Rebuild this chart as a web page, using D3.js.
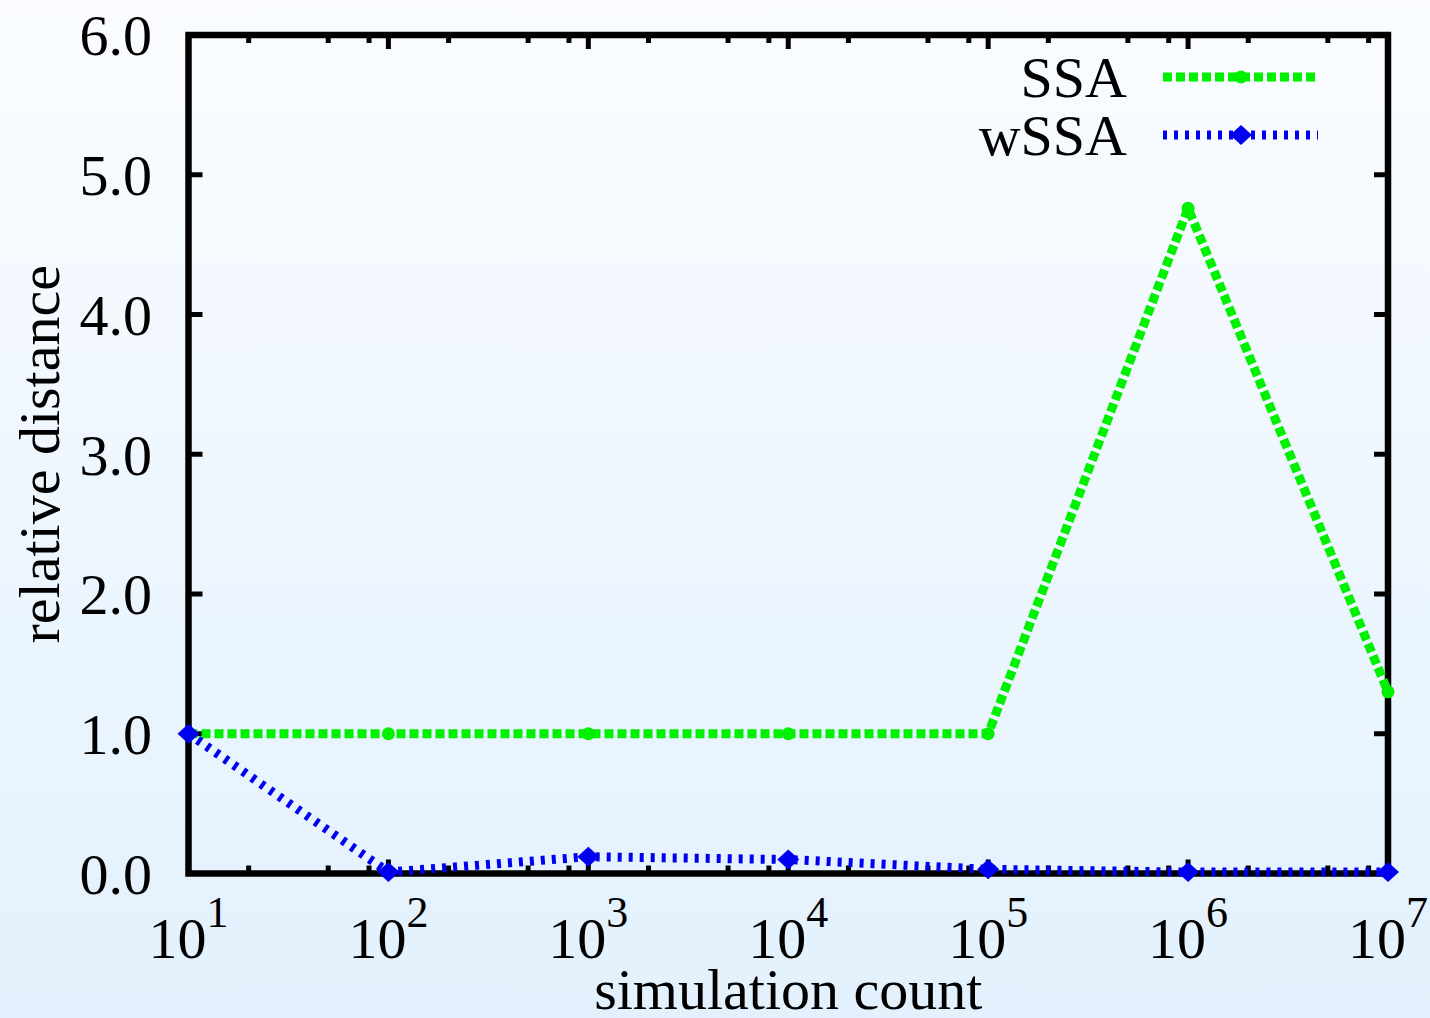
<!DOCTYPE html>
<html>
<head>
<meta charset="utf-8">
<script src="https://cdn.jsdelivr.net/npm/d3@7"></script>
<style>
  html, body { margin: 0; padding: 0; }
  body { width: 1430px; height: 1018px; overflow: hidden; }
  text { font-family: "Liberation Serif", "Times New Roman", serif; fill: #000; }
</style>
</head>
<body>
<div id="chart"></div>
<script>
// Data
const counts = [1e1, 1e2, 1e3, 1e4, 1e5, 1e6, 1e7];
const ssaValues = [1.0, 1.0, 1.0, 1.0, 1.0, 4.76, 1.30];
const wssaValues = [1.0, 0.01, 0.12, 0.10, 0.03, 0.01, 0.01];
const yTicks = [0, 1, 2, 3, 4, 5, 6];
const minorMultipliers = [2, 5, 8];

const width = 1430, height = 1018;
const margin = { left: 188.5, right: 1430 - 1388, top: 35, bottom: 1018 - 873.5 };

const svg = d3.select("#chart")
  .append("svg")
  .attr("width", width)
  .attr("height", height);

// background gradient
const defs = svg.append("defs");
const bg = defs.append("linearGradient")
  .attr("id", "bg")
  .attr("x1", 0).attr("x2", 0).attr("y1", 0).attr("y2", 1);
bg.append("stop").attr("offset", "0%").attr("stop-color", "#fafcff");
bg.append("stop").attr("offset", "100%").attr("stop-color", "#e2f1fd");
svg.append("rect")
  .attr("width", width).attr("height", height)
  .attr("fill", "url(#bg)");

const x = d3.scaleLog()
  .domain([1e1, 1e7])
  .range([margin.left, width - margin.right]);

const y = d3.scaleLinear()
  .domain([0, 6])
  .range([height - margin.bottom, margin.top]);

const [x0, x1] = x.range();
const [yb, yt] = y.range();

// ticks (inward, on all four sides)
const tickG = svg.append("g").attr("stroke", "#000").attr("stroke-width", 5);

yTicks.forEach(v => {
  tickG.append("line").attr("x1", x0).attr("x2", x0 + 14).attr("y1", y(v)).attr("y2", y(v));
  tickG.append("line").attr("x1", x1).attr("x2", x1 - 14).attr("y1", y(v)).attr("y2", y(v));
});

counts.forEach(c => {
  tickG.append("line").attr("x1", x(c)).attr("x2", x(c)).attr("y1", yb).attr("y2", yb - 14);
  tickG.append("line").attr("x1", x(c)).attr("x2", x(c)).attr("y1", yt).attr("y2", yt + 14);
});

counts.slice(0, -1).forEach(c => {
  minorMultipliers.forEach(m => {
    const px = x(c * m);
    tickG.append("line").attr("x1", px).attr("x2", px).attr("y1", yb).attr("y2", yb - 8);
    tickG.append("line").attr("x1", px).attr("x2", px).attr("y1", yt).attr("y2", yt + 8);
  });
});

// border
svg.append("rect")
  .attr("x", x0).attr("y", yt)
  .attr("width", x1 - x0).attr("height", yb - yt)
  .attr("fill", "none")
  .attr("stroke", "#000")
  .attr("stroke-width", 6.5);

// y tick labels
svg.append("g")
  .selectAll("text")
  .data(yTicks)
  .join("text")
  .attr("x", 152)
  .attr("y", d => y(d))
  .attr("dy", "0.35em")
  .attr("text-anchor", "end")
  .attr("font-size", 58)
  .text(d => d3.format(".1f")(d));

// x tick labels: 10^n
const xLab = svg.append("g")
  .selectAll("text")
  .data(counts)
  .join("text")
  .attr("x", d => x(d))
  .attr("y", 958)
  .attr("text-anchor", "middle")
  .attr("font-size", 58);
xLab.append("tspan").text("10");
xLab.append("tspan")
  .attr("font-size", 44)
  .attr("dy", -31)
  .text(d => Math.round(Math.log10(d)));

// axis titles
svg.append("text")
  .attr("x", (x0 + x1) / 2)
  .attr("y", 1009)
  .attr("text-anchor", "middle")
  .attr("font-size", 58)
  .text("simulation count");

svg.append("text")
  .attr("transform", `translate(59,${(yt + yb) / 2}) rotate(-90)`)
  .attr("text-anchor", "middle")
  .attr("font-size", 58)
  .text("relative distance");

// series
const series = [
  { name: "SSA", values: ssaValues, color: "#00f000", dash: "9 4", marker: "circle", ly: 77 },
  { name: "wSSA", values: wssaValues, color: "#0000f0", dash: "4 7", marker: "diamond", ly: 135 }
];

const line = d3.line()
  .x(d => x(d[0]))
  .y(d => y(d[1]));

const diamond = "M0,-10L11,0L0,10L-11,0Z";

function drawMarker(g, cx, cy, s) {
  if (s.marker === "circle") {
    g.append("circle").attr("cx", cx).attr("cy", cy).attr("r", 6.5).attr("fill", s.color);
  } else {
    g.append("path").attr("d", diamond)
      .attr("transform", `translate(${cx},${cy})`)
      .attr("fill", s.color);
  }
}

series.forEach(s => {
  const pts = counts.map((c, i) => [c, s.values[i]]);
  svg.append("path")
    .datum(pts)
    .attr("d", line)
    .attr("fill", "none")
    .attr("stroke", s.color)
    .attr("stroke-width", 9)
    .attr("stroke-dasharray", s.dash)
    .attr("stroke-linejoin", "miter");
  const g = svg.append("g");
  pts.forEach(p => drawMarker(g, x(p[0]), y(p[1]), s));
});

// legend
series.forEach(s => {
  svg.append("text")
    .attr("x", 1127)
    .attr("y", s.ly + 20)
    .attr("text-anchor", "end")
    .attr("font-size", 58)
    .text(s.name);
  svg.append("line")
    .attr("x1", 1163).attr("x2", 1318)
    .attr("y1", s.ly).attr("y2", s.ly)
    .attr("stroke", s.color)
    .attr("stroke-width", 9)
    .attr("stroke-dasharray", s.dash);
  drawMarker(svg, 1241, s.ly, s);
});
</script>
</body>
</html>
